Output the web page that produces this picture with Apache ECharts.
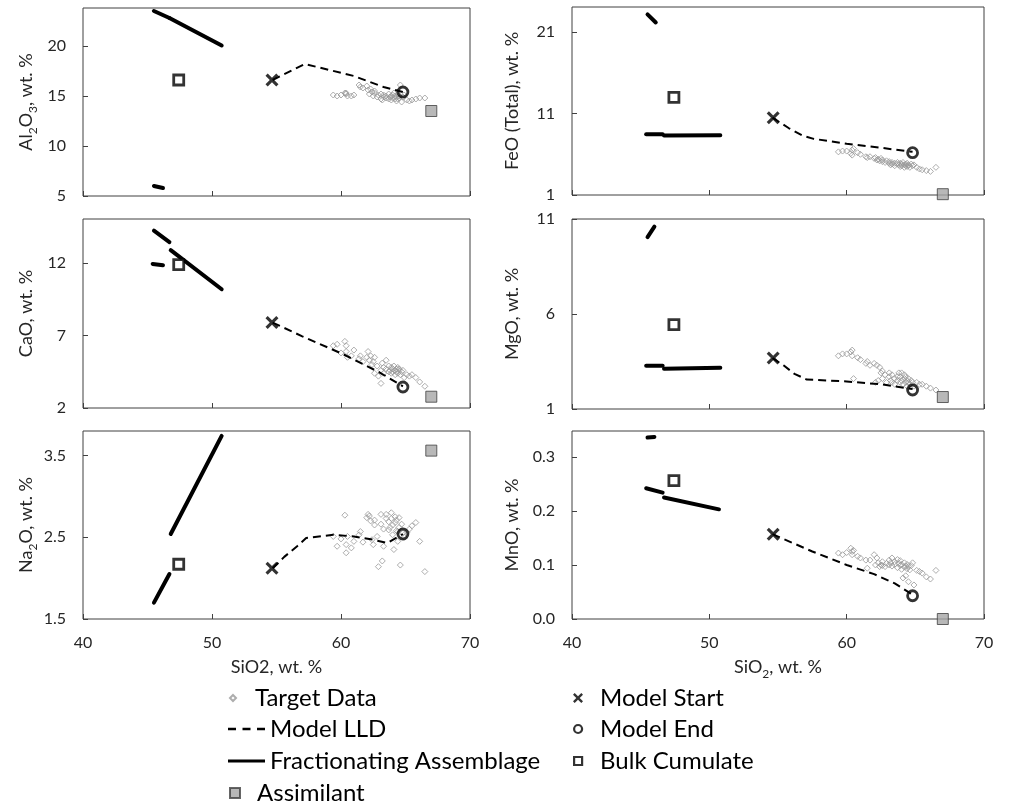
<!DOCTYPE html>
<html><head><meta charset="utf-8">
<script src="https://cdn.jsdelivr.net/npm/echarts@6/dist/echarts.min.js"></script>
<style>html,body{margin:0;padding:0;background:#fff}#c{width:1009px;height:805px}</style>
</head><body><div id="c"></div>
<script>
// ---------- DATA ----------
const targetSiO2 = [59.4,59.7,60.0,60.3,60.4,60.4,60.5,60.8,61.0,61.4,
 61.5,61.7,62.0,62.1,62.2,62.3,62.4,62.5,62.6,62.6,
 62.8,62.9,63.1,63.1,63.2,63.3,63.3,63.5,63.5,63.7,
 63.7,63.8,63.9,63.9,64.0,64.0,64.1,64.2,64.2,64.3,
 64.3,64.4,64.4,64.5,64.5,64.6,64.7,64.8,64.9,65.1,
 65.3,65.5,65.8,66.1,66.5];
const targetAl2O3 = [15.1,15.0,15.1,15.3,15.2,15.3,15.0,15.0,15.1,16.1,
 15.9,15.8,16.0,15.6,15.2,15.7,15.4,15.0,15.5,15.3,
 14.9,15.1,14.7,15.2,14.6,14.9,15.1,14.8,15.0,14.7,
 15.2,14.9,15.0,14.6,15.1,14.8,15.3,14.7,15.0,14.5,
 14.9,15.2,14.7,14.8,15.0,16.1,14.4,14.9,15.1,14.6,
 14.5,14.6,14.7,14.8,14.8];
const targetFeO = [6.3,6.4,6.4,6.1,6.5,5.9,6.7,6.2,6.0,5.7,
 5.6,5.7,5.5,5.6,5.3,5.4,5.2,5.5,5.1,5.3,
 5.0,5.2,4.9,5.1,4.7,5.0,4.8,4.9,4.6,4.8,
 5.0,4.7,4.9,4.5,4.8,4.6,5.0,4.7,4.4,4.8,
 4.6,4.5,4.9,4.6,4.7,4.4,4.8,4.6,4.7,4.4,
 4.2,4.1,4.0,3.9,4.4];
const targetCaO = [6.3,6.4,5.8,6.6,6.3,5.9,5.5,5.6,6.0,5.4,
 5.6,5.2,5.5,5.9,5.3,5.6,5.0,5.2,4.4,5.5,
 4.9,4.2,3.7,4.6,5.1,4.8,4.4,5.3,4.7,4.5,
 4.9,4.6,4.8,4.4,4.7,4.5,4.9,4.6,4.3,4.7,
 4.5,4.8,4.4,4.6,4.7,4.3,4.5,4.6,4.1,4.3,
 4.2,4.3,4.1,3.8,3.5];
const targetMgO = [3.8,3.9,3.9,4.0,4.1,3.8,2.6,3.7,3.6,3.4,
 3.5,3.3,3.4,2.4,3.3,2.5,3.2,2.9,3.0,2.6,
 2.8,2.4,2.7,2.9,2.5,2.8,2.4,2.6,2.3,2.7,
 2.5,2.9,2.4,2.7,2.9,2.5,2.3,2.8,2.6,2.4,
 2.7,2.5,2.2,2.6,2.4,2.3,2.5,2.4,2.2,2.4,
 2.3,2.3,2.2,2.1,2.0];
const targetNa2O = [2.51,2.39,2.48,2.77,2.41,2.31,2.51,2.37,2.45,2.53,
 2.57,2.44,2.74,2.78,2.76,2.70,2.47,2.41,2.71,2.65,
 2.51,2.14,2.78,2.66,2.21,2.60,2.39,2.78,2.73,2.69,
 2.59,2.62,2.80,2.73,2.65,2.53,2.35,2.75,2.68,2.71,
 2.58,2.57,2.45,2.74,2.62,2.16,2.66,2.55,2.50,2.56,
 2.60,2.64,2.68,2.45,2.08];
const targetMnO = [0.122,0.119,0.123,0.131,0.125,0.119,0.127,0.116,0.113,0.109,
 0.094,0.109,0.119,0.100,0.113,0.104,0.097,0.100,0.106,0.099,
 0.097,0.103,0.109,0.100,0.104,0.113,0.098,0.106,0.101,0.110,
 0.095,0.103,0.099,0.108,0.092,0.101,0.076,0.096,0.104,0.080,
 0.098,0.093,0.101,0.097,0.069,0.091,0.099,0.104,0.063,0.090,
 0.088,0.085,0.078,0.074,0.090];

// panel order: Al2O3, FeO, CaO, MgO, Na2O, MnO
const yNames = ['Al{s|2}O{s|3}, wt. %','FeO (Total), wt. %','CaO, wt. %','MgO, wt. %','Na{s|2}O, wt. %','MnO, wt. %'];
const xNames = ['SiO2, wt. %','SiO{s|2}, wt. %'];
const yMin = [5, 1, 2, 1, 1.5, 0];
const yMax = [23.8, 24.1, 15.05, 11, 3.8, 0.348];
const yTicks = [[5,10,15,20],[1,11,21],[2,7,12],[1,6,11],[1.5,2.5,3.5],[0,0.1,0.2,0.3]];
const yDecimals = [0,0,0,0,1,1];

const modelStartSiO2 = 54.65;
const modelStart = [16.6, 10.5, 7.9, 3.68, 2.12, 0.157];
const modelEndSiO2 = 64.8;
const modelEnd = [15.4, 6.2, 3.45, 2.0, 2.54, 0.043];
const bulkCumulateSiO2 = 47.42;
const bulkCumulate = [16.6, 13.0, 11.9, 5.44, 2.17, 0.256];
const assimilantSiO2 = 67.0;
const assimilant = [13.5, 1.1, 2.78, 1.63, 3.56, 0.0];

const lldAl2O3 = [[54.7,16.6],[57.2,18.2],[61,17.0],[63.3,15.9],[64.8,15.4]];
const lldFeO = [[54.6,10.5],[55.8,9.2],[56.8,8.3],[57.6,7.9],[60,7.3],[62.5,6.8],[64.8,6.3]];
const lldCaO = [[54.7,7.9],[57,6.95],[60.2,5.7],[63,4.45],[64.8,3.5]];
const lldMgO = [[54.6,3.68],[55.4,3.3],[56.2,2.85],[57.1,2.55],[60,2.45],[62.5,2.3],[64.8,2.05]];
const lldNa2O = [[54.7,2.12],[55.6,2.26],[56.6,2.39],[57.3,2.49],[59.4,2.53],[61,2.51],[62.5,2.47],[63.6,2.43],[64.8,2.54]];
const lldMnO = [[54.6,0.157],[57.5,0.125],[60,0.100],[62,0.083],[63.5,0.066],[64.8,0.045]];

const fracAl2O3 = [[[45.5,23.5],[46.7,22.8]], [[46.7,22.8],[50.75,20.05]], [[45.5,6.0],[46.2,5.8]]];
const fracFeO = [[[45.4,8.45],[46.6,8.45]], [[46.7,8.3],[50.8,8.35]], [[45.5,23.2],[46.1,22.2]]];
const fracCaO = [[[45.5,14.25],[46.7,13.45]], [[46.8,12.9],[50.75,10.2]], [[45.4,11.95],[46.2,11.85]]];
const fracMgO = [[[45.4,3.28],[46.6,3.28]], [[46.7,3.12],[50.8,3.17]], [[45.5,10.05],[46.0,10.6]]];
const fracNa2O = [[[45.5,1.70],[46.7,2.05]], [[46.8,2.54],[50.75,3.74]]];
const fracMnO = [[[45.4,0.242],[46.6,0.234]], [[46.7,0.225],[50.7,0.203]], [[45.5,0.336],[46.0,0.337]]];

const targets = [targetAl2O3, targetFeO, targetCaO, targetMgO, targetNa2O, targetMnO];
const llds = [lldAl2O3, lldFeO, lldCaO, lldMgO, lldNa2O, lldMnO];
const fracs = [fracAl2O3, fracFeO, fracCaO, fracMgO, fracNa2O, fracMnO];

// ---------- CHART ----------
const FONT = 'Lato';
const TXT = '#262626';
const grids = [
  {left:83, top:8, width:387, height:188},
  {left:572, top:7, width:412, height:188},
  {left:83, top:219, width:387, height:189},
  {left:572, top:219, width:412, height:190},
  {left:83, top:431, width:387, height:188},
  {left:572, top:431, width:412, height:188}
].map(g => Object.assign(g, {show:true, borderColor:'#404040', borderWidth:1, backgroundColor:'transparent'}));

const richSub = {s:{fontSize:12, fontFamily:FONT, color:TXT, verticalAlign:'bottom', padding:[0,0,-4,0]}};

const xAxes = grids.map((g,i) => ({
  gridIndex:i, type:'value', min:40, max:70, interval:10,
  axisLine:{show:false}, splitLine:{show:false},
  axisTick:{show:true, inside:true, length:5, lineStyle:{color:'#404040'}},
  axisLabel:{show:i>=4, fontSize:16, fontFamily:FONT, color:TXT, margin:16},
  name: i>=4 ? xNames[i-4] : '', nameLocation:'middle', nameGap:39,
  nameTextStyle:{fontSize:18, fontFamily:FONT, color:TXT, rich:richSub}
}));
const yAxes = grids.map((g,i) => ({
  gridIndex:i, type:'value', min:yMin[i], max:yMax[i],
  axisLine:{show:false}, splitLine:{show:false},
  axisTick:{show:true, inside:true, length:5, customValues:yTicks[i], lineStyle:{color:'#404040'}},
  axisLabel:{fontSize:16, fontFamily:FONT, color:TXT, margin:17, customValues:yTicks[i],
    formatter: v => Number(v).toFixed(yDecimals[i])},
  name: yNames[i], nameLocation:'middle', nameGap: (i % 2 === 0) ? 48 : 51, nameRotate:90,
  nameTextStyle:{fontSize:18, fontFamily:FONT, color:TXT, rich:richSub}
}));

const X_PATH = 'path://M0,1.7 L1.7,0 L5,3.3 L8.3,0 L10,1.7 L6.7,5 L10,8.3 L8.3,10 L5,6.7 L1.7,10 L0,8.3 L3.3,5 Z';
const series = [];
for (let i = 0; i < 6; i++) {
  series.push({
    name:'Target Data', type:'scatter', xAxisIndex:i, yAxisIndex:i, z:2,
    symbol:'diamond', symbolSize:6,
    itemStyle:{color:'rgba(255,255,255,0)', borderColor:'#999999', borderWidth:1},
    data: targetSiO2.map((x,k) => [x, targets[i][k]])
  });
  series.push({
    name:'Model LLD', type:'line', xAxisIndex:i, yAxisIndex:i, z:3,
    symbol:'none', lineStyle:{color:'#000', width:2, type:[8,5]},
    itemStyle:{color:'#000'},
    data: llds[i]
  });
  fracs[i].forEach(seg => series.push({
    name:'Fractionating Assemblage', type:'line', xAxisIndex:i, yAxisIndex:i, z:3,
    symbol:'none', lineStyle:{color:'#000', width:4, cap:'round'}, itemStyle:{color:'#000'},
    data: seg
  }));
  series.push({
    name:'Model Start', type:'scatter', xAxisIndex:i, yAxisIndex:i, z:5,
    symbol:X_PATH, symbolSize:13, itemStyle:{color:'#000'},
    data:[[modelStartSiO2, modelStart[i]]]
  });
  series.push({
    name:'Model End', type:'scatter', xAxisIndex:i, yAxisIndex:i, z:5,
    symbol:'circle', symbolSize:10, itemStyle:{color:'rgba(255,255,255,0)', borderColor:'#000', borderWidth:2.8},
    data:[[modelEndSiO2, modelEnd[i]]]
  });
  series.push({
    name:'Bulk Cumulate', type:'scatter', xAxisIndex:i, yAxisIndex:i, z:5,
    symbol:'rect', symbolSize:10, itemStyle:{color:'#fff', borderColor:'#000', borderWidth:2.8},
    data:[[bulkCumulateSiO2, bulkCumulate[i]]]
  });
  series.push({
    name:'Assimilant', type:'scatter', xAxisIndex:i, yAxisIndex:i, z:5,
    symbol:'rect', symbolSize:11, itemStyle:{color:'#a6a6a6', borderColor:'#404040', borderWidth:1},
    data:[[assimilantSiO2, assimilant[i]]]
  });
}

const ICON_DIAMOND = 'path://M5,0L10,5L5,10L0,5Z';
const ICON_SQUARE = 'path://M0,0L10,0L10,10L0,10Z';
const ICON_CIRCLE = 'path://M5,0A5,5,0,1,1,4.99,0Z';
const ICON_DASH = 'path://M0,0h8v2.4h-8z M14.5,0h8v2.4h-8z M29,0h8v2.4h-8z';
const ICON_SOLID = 'path://M0,0h37v3h-37z';
const legTxt = {fontSize:24, fontFamily:FONT, color:'#000'};
function leg(name, icon, left, top, w, h, extra) {
  return Object.assign({data:[{name:name, icon:icon}], left:left, top:top, itemWidth:w, itemHeight:h, padding:0,
    textStyle:legTxt, selectedMode:false, symbolKeepAspect:true}, extra || {});
}
const legend = [
  leg('Target Data', ICON_DIAMOND, 229, 686, 34, 6),
  leg('Model LLD', ICON_DASH, 228, 717, 37, 2.4, {itemStyle:{color:'#000', borderWidth:0}}),
  leg('Fractionating Assemblage', ICON_SOLID, 228, 749, 37, 3, {itemStyle:{color:'#000', borderWidth:0}}),
  leg('Assimilant', ICON_SQUARE, 229, 781, 34, 10),
  leg('Model Start', X_PATH, 573, 686, 34, 10),
  leg('Model End', ICON_CIRCLE, 573, 717, 34, 8, {itemStyle:{borderColor:'#000', borderWidth:2.2}}),
  leg('Bulk Cumulate', ICON_SQUARE, 573, 749, 34, 8, {itemStyle:{borderColor:'#000', borderWidth:2.2}})
];

const chart = echarts.init(document.getElementById('c'), null, {renderer:'canvas'});
chart.setOption({
  animation:false, backgroundColor:'#fff',
  textStyle:{fontFamily:FONT},
  grid:grids, xAxis:xAxes, yAxis:yAxes, series:series, legend:legend
});
</script></body></html>
